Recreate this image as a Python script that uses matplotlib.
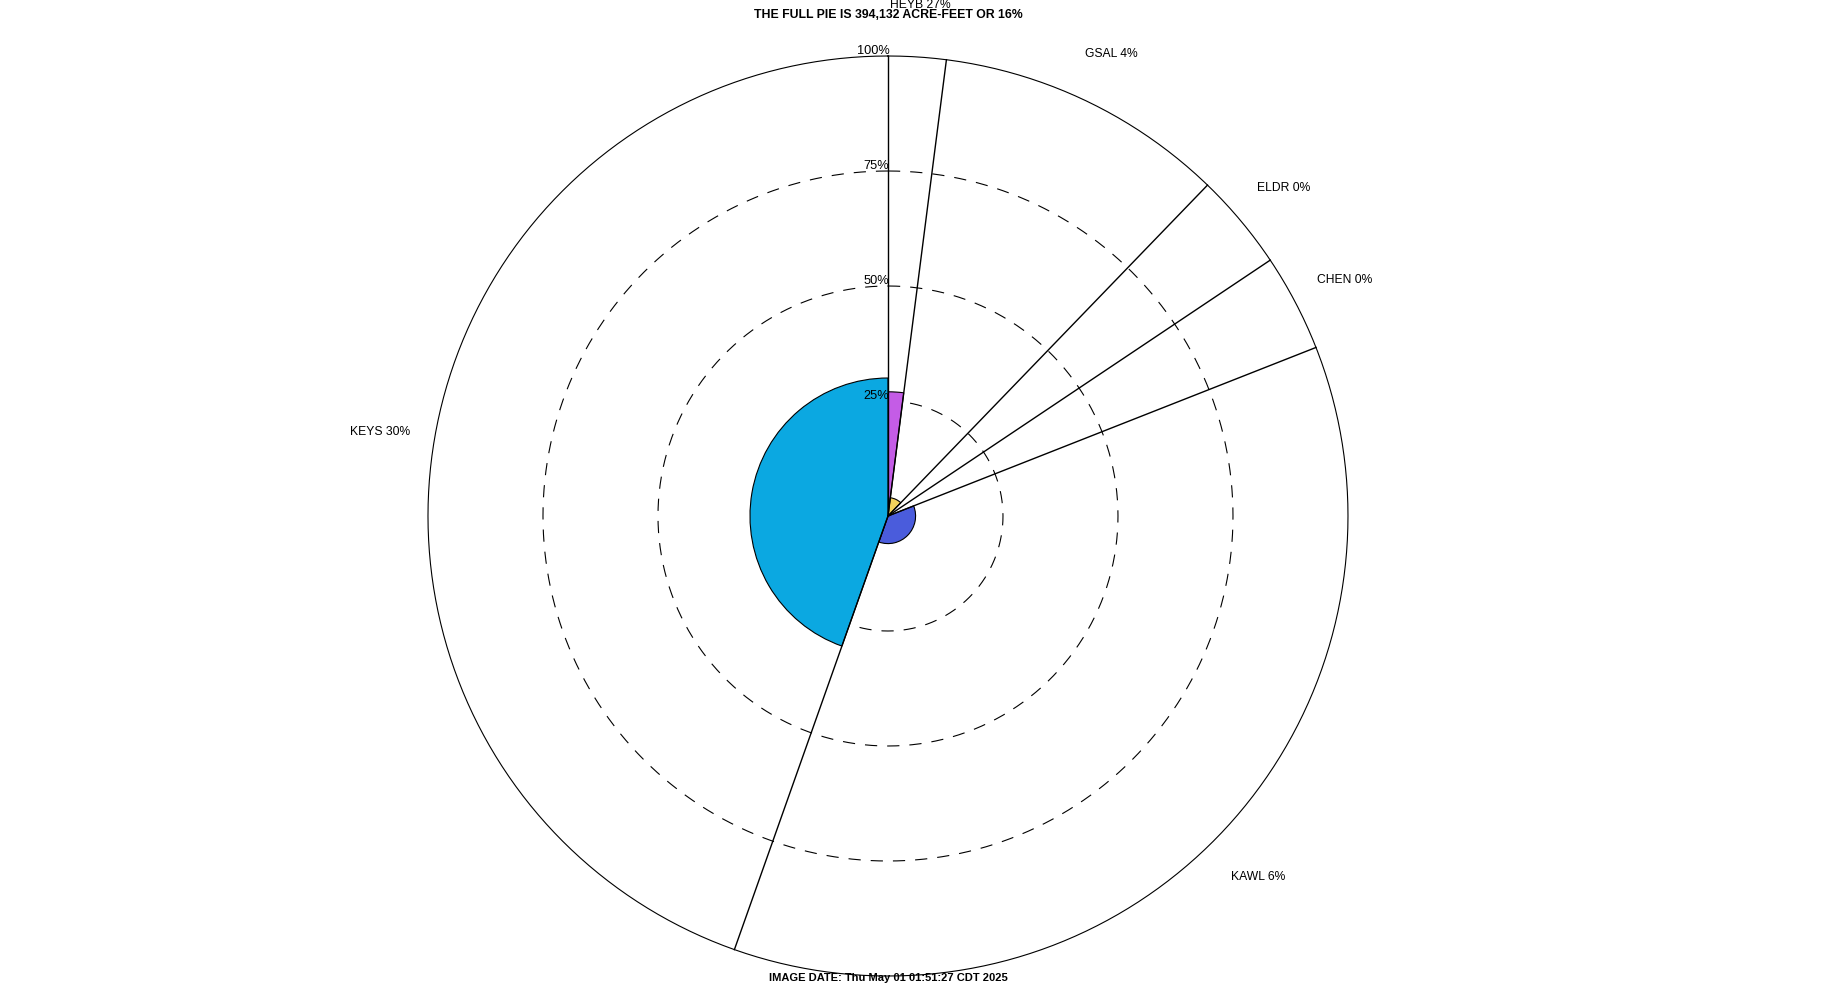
import matplotlib
matplotlib.use('Agg')
import matplotlib.pyplot as plt
import numpy as np

plt.rcParams['font.family'] = ['Liberation Sans', 'DejaVu Sans']

# reservoirs, clockwise from the top
lakes = ['HEYB', 'GSAL', 'ELDR', 'CHEN', 'KAWL', 'KEYS']
capacity = [7990, 40180, 13360, 13470, 143420, 175712]   # acre-feet, sets wedge width
pct_full = [27, 4, 0, 0, 6, 30]
colors = ['#c45ce6', '#f2d25c', '#e07b39', '#6fcf6f', '#4a5cdc', '#0ba8e1']

ring_levels = [25, 50, 75, 100]
ring_labels = ['25%', '50%', '75%', '100%']

title = 'THE FULL PIE IS 394,132 ACRE-FEET OR 16%'
footer = 'IMAGE DATE: Thu May 01 01:51:27 CDT 2025'

total = sum(capacity)
widths = 2 * np.pi * np.array(capacity) / total
starts = np.concatenate([[0], np.cumsum(widths)[:-1]])

fig = plt.figure(figsize=(18.4, 10), dpi=100)
ax = fig.add_axes([0.2326, 0.024, 0.5, 0.92], projection='polar')
ax.set_theta_zero_location('N')
ax.set_theta_direction(-1)
ax.set_ylim(0, 100)
ax.axis('off')

# rings
tt = np.linspace(0, 2 * np.pi, 721)
for lev in ring_levels:
    if lev == 100:
        ax.plot(tt, np.full_like(tt, lev), color='black', lw=0.8, clip_on=False)
    else:
        ax.plot(tt, np.full_like(tt, lev), color='black', lw=0.8,
                dashes=(11, 9), clip_on=False)

# filled wedges (percent full)
ax.bar(starts, pct_full, width=widths, align='edge', color=colors,
       edgecolor='black', linewidth=0.8, zorder=3)

# wedge boundaries at full capacity
for s in starts:
    ax.plot([s, s], [0, 100], color='black', lw=1.0, zorder=4, clip_on=False)

# ring labels
for lev, lab in zip(ring_levels, ring_labels):
    ax.annotate(lab, xy=(0, lev), xytext=(1, -1), textcoords='offset points',
                ha='right', va='bottom', fontsize=9.2, zorder=5)

# lake labels
for s, w, name, p in zip(starts, widths, lakes, pct_full):
    ax.annotate(f'{name} {p}%', xy=(s + w / 2, 112), xytext=(0, -2),
                textcoords='offset points', ha='center', va='center',
                fontsize=8.7, annotation_clip=False)

fig.text(0.4826, 0.985, title, ha='center', va='center', fontsize=8.8,
         fontweight='bold')
fig.text(0.4826, 0.022, footer, ha='center', va='center', fontsize=8.0,
         fontweight='bold')

fig.savefig('out.png', dpi=100)
